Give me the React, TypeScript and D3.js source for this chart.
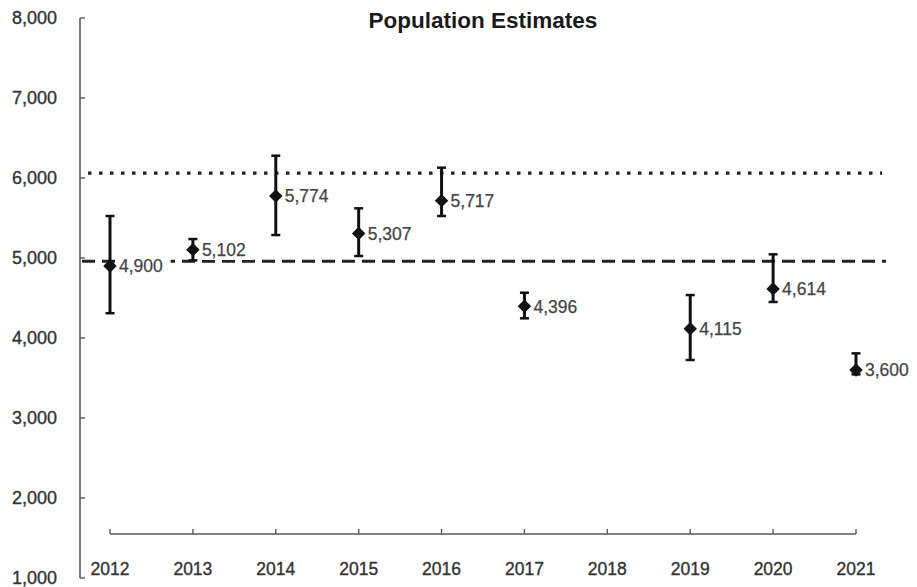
import React from "react";
import * as d3 from "d3";

// Annual population estimates with lower / upper bounds of the confidence interval
const years = [2012, 2013, 2014, 2015, 2016, 2017, 2018, 2019, 2020, 2021];
const estimates: (number | null)[] = [4900, 5102, 5774, 5307, 5717, 4396, null, 4115, 4614, 3600];
const lowerBounds: (number | null)[] = [4310, 4970, 5287, 5025, 5525, 4246, null, 3725, 4450, 3545];
const upperBounds: (number | null)[] = [5525, 5237, 6279, 5621, 6129, 4566, null, 4537, 5046, 3808];
const yTicks = [1000, 2000, 3000, 4000, 5000, 6000, 7000, 8000];

// Reference levels
const upperReference = 6060;
const lowerReference = 4960;

const W = 917;
const H = 587;
const FONT = "'Liberation Sans', Arial, sans-serif";
const INK = "#111";
const AXIS = "#5a5a5a";

export default function App() {
  const y = d3.scaleLinear().domain([1000, 8000]).range([578, 18]);
  const x = d3.scalePoint<number>().domain(years).range([110, 856]);
  const fmt = d3.format(",");
  const xAxisY = 534;
  const yAxisX = 80;

  const points = years
    .map((yr, i) => ({ yr, v: estimates[i], lo: lowerBounds[i], hi: upperBounds[i] }))
    .filter((d) => d.v !== null) as { yr: number; v: number; lo: number; hi: number }[];

  const diamond = d3.symbol().type(d3.symbolDiamond2).size(115);
  const labelFontSize = 17.5;

  return (
    <svg
      width={W}
      height={H}
      viewBox={`0 0 ${W} ${H}`}
      style={{ position: "absolute", left: 0, top: 0, background: "#fff" }}
      fontFamily={FONT}
    >
      <rect x={0} y={0} width={W} height={H} fill="#fff" />

      {/* title */}
      <text x={483} y={28} textAnchor="middle" fontSize={22.5} fontWeight="bold" fill="#1a1a1a">
        Population Estimates
      </text>

      {/* y axis */}
      <line x1={yAxisX} x2={yAxisX} y1={y(8000)} y2={y(1000)} stroke={AXIS} strokeWidth={1.6} />
      {yTicks.map((t) => (
        <g key={t}>
          <line x1={yAxisX} x2={yAxisX + 5} y1={y(t)} y2={y(t)} stroke={AXIS} strokeWidth={1.4} />
          <text
            x={57}
            y={y(t)}
            dy="0.35em"
            textAnchor="end"
            fontSize={18}
            fill="#333"
            stroke="#333"
            strokeWidth={0.35}
          >
            {fmt(t)}
          </text>
        </g>
      ))}

      {/* x axis */}
      <line x1={x(2012)!} x2={x(2021)!} y1={xAxisY} y2={xAxisY} stroke={AXIS} strokeWidth={1.6} />
      {years.map((yr) => (
        <g key={yr}>
          <line x1={x(yr)!} x2={x(yr)!} y1={xAxisY} y2={xAxisY - 5} stroke={AXIS} strokeWidth={1.4} />
          <text
            x={x(yr)!}
            y={575}
            textAnchor="middle"
            fontSize={17.5}
            fill="#333"
            stroke="#333"
            strokeWidth={0.35}
          >
            {yr}
          </text>
        </g>
      ))}

      {/* reference lines */}
      <line
        x1={88}
        x2={882}
        y1={y(upperReference)}
        y2={y(upperReference)}
        stroke="#222"
        strokeWidth={3.3}
        strokeDasharray="3.5 7.5"
      />
      <line
        x1={82}
        x2={886}
        y1={y(lowerReference)}
        y2={y(lowerReference)}
        stroke="#222"
        strokeWidth={3}
        strokeDasharray="13 7"
      />

      {/* data labels with white backgrounds */}
      {points.map((d) => {
        const label = fmt(d.v);
        const w = label.length * labelFontSize * 0.556;
        const lx = x(d.yr)! + 9;
        return (
          <g key={`lab-${d.yr}`}>
            <rect x={lx - 2} y={y(d.v) - 10} width={w + 5} height={20} fill="#fff" />
            <text
              x={lx}
              y={y(d.v)}
              dy="0.36em"
              fontSize={labelFontSize}
              fill="#444"
              stroke="#444"
              strokeWidth={0.25}
            >
              {label}
            </text>
          </g>
        );
      })}

      {/* error bars and markers */}
      {points.map((d) => {
        const cx = x(d.yr)!;
        return (
          <g key={`pt-${d.yr}`}>
            <line x1={cx} x2={cx} y1={y(d.lo)} y2={y(d.hi)} stroke={INK} strokeWidth={3} />
            <line x1={cx - 4.5} x2={cx + 4.5} y1={y(d.hi)} y2={y(d.hi)} stroke={INK} strokeWidth={2.5} />
            <line x1={cx - 4.5} x2={cx + 4.5} y1={y(d.lo)} y2={y(d.lo)} stroke={INK} strokeWidth={2.5} />
            <path d={diamond()!} transform={`translate(${cx},${y(d.v)})`} fill={INK} />
          </g>
        );
      })}
    </svg>
  );
}
